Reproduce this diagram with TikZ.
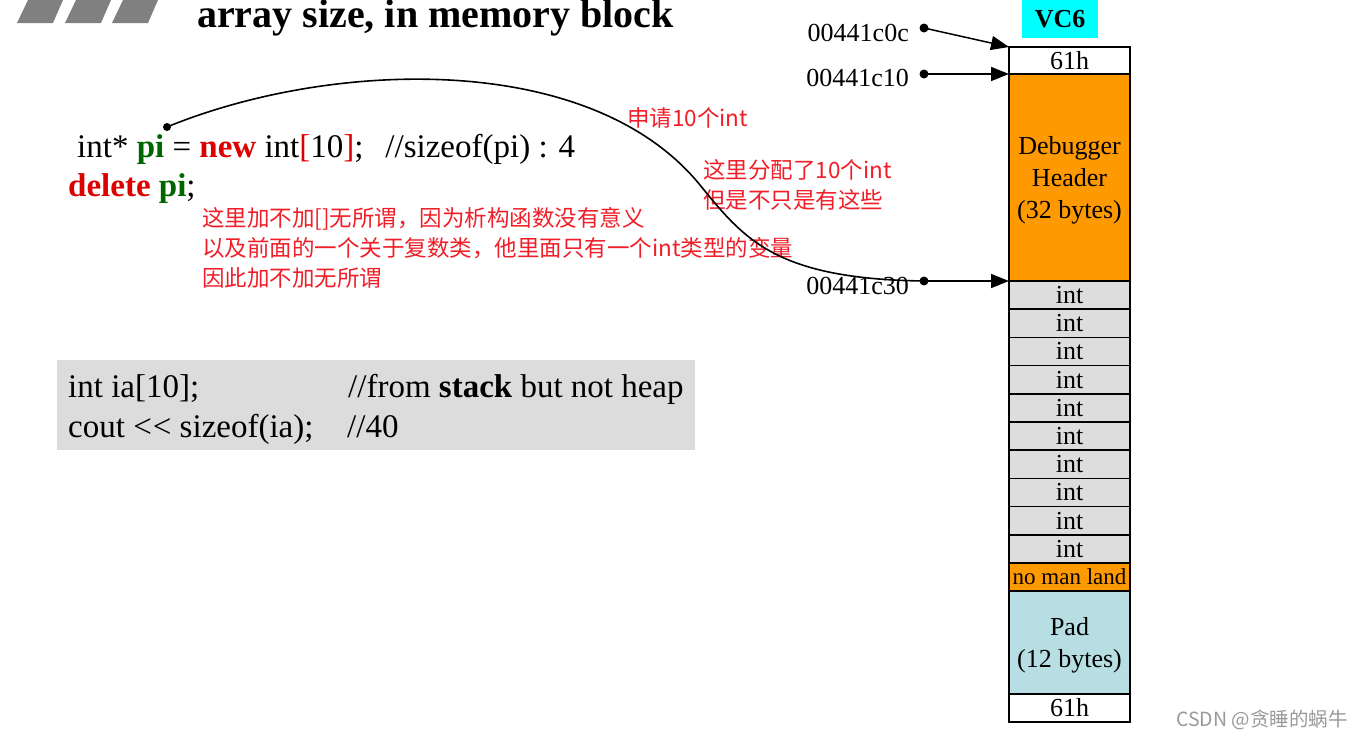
\documentclass[tikz,border=0pt]{standalone}
\usepackage{xcolor}
\usepackage{fontspec}
\setmainfont{Liberation Serif}
\newfontfamily\cjk{Noto Sans CJK SC}
\usepackage{tikz}
\usetikzlibrary{positioning,calc,arrows.meta}

\definecolor{hdrorange}{HTML}{FF9900}
\definecolor{cellgray}{HTML}{DDDDDD}
\definecolor{padblue}{HTML}{B7DEE3}
\definecolor{boxgray}{HTML}{DCDCDC}
\definecolor{vccyan}{HTML}{00FFFF}
\definecolor{keyred}{HTML}{DD0000}
\definecolor{ptrgreen}{HTML}{006600}
\definecolor{notered}{HTML}{F01E28}
\definecolor{markgray}{HTML}{808080}

\tikzset{
  memcell/.style={draw, line width=1.5pt, minimum width=121pt, inner sep=0pt, outer sep=0pt,
    anchor=north west, align=center, font=\fontsize{26}{32}\selectfont},
  addr/.style={anchor=base east, inner sep=0pt, font=\fontsize{26}{30}\selectfont},
  note/.style={text=notered, anchor=base west, inner sep=0pt, align=left, font=\cjk\fontsize{22.5}{30}\selectfont},
  code/.style={anchor=base west, inner sep=0pt, font=\fontsize{33}{40}\selectfont},
  ptr/.style={line width=1.5pt, -{Triangle[length=18pt,width=14pt]}}
}

\begin{document}
\begin{tikzpicture}[x=1pt,y=-1pt]
    \useasboundingbox (0,0) rectangle (1363,739);
    % Title
    \foreach \dx in {0,48,95}
        \fill[markgray] (17+\dx,23) -- (53+\dx,23) -- (63+\dx,0) -- (28+\dx,0) -- cycle;
    \node[anchor=base west, inner sep=0pt, font=\bfseries\fontsize{40}{48}\selectfont] (title) at (197,27) {array size, in memory block};
    % Code
    \node[code] (newline) at (77,157) {int* \textcolor{ptrgreen}{\textbf{pi}} = \textcolor{keyred}{\textbf{new}} int\textcolor{keyred}{[}10\textcolor{keyred}{]};\hspace{22pt}//sizeof(pi) : 4};
    \node[code] (delline) at (68,196) {\textcolor{keyred}{\textbf{delete}} \textcolor{ptrgreen}{\textbf{pi}};};
    \node[note] (delnote) at (202,286) {这里加不加[]无所谓，因为析构函数没有意义\\以及前面的一个关于复数类，他里面只有一个int类型的变量\\因此加不加无所谓};
    \node[note] (newnote) at (627,126) {申请10个int};
    \node[note] (allocnote) at (703,208) {这里分配了10个int\\但是不只是有这些};
    % Stack array
    \node[fill=boxgray, minimum width=638pt, minimum height=90pt, anchor=north west, inner sep=0pt] (stackbox) at (57,360) {};
    \node[code] (arrline) at (68,397) {int ia[10];};
    \node[code] (coutline) at (68,437) {cout <\kern1pt< sizeof(ia);};
    \node[code] (arrnote) at (348,397) {//from \textbf{stack} but not heap};
    \node[code] (coutnote) at (347,437) {//40};
    % Memory block
    \node[fill=vccyan, minimum width=76pt, minimum height=38pt, anchor=north west, inner sep=0pt, font=\bfseries\fontsize{26}{30}\selectfont] (vc) at (1022,0) {VC6};
    \node[memcell, fill=white, minimum height=27pt] (tophead) at (1009,47) {61h};
    \node[memcell, fill=hdrorange, minimum height=207pt, text depth=-2pt] (dbg) at (1009,74) {Debugger\\Header\\(32 bytes)};
    \foreach \i in {1,...,10}
        \node[memcell, fill=cellgray, minimum height=28.2pt] (int\i) at (1009,{281+28.2*(\i-1)}) {int};
    \node[memcell, fill=hdrorange, minimum height=28pt, font=\fontsize{23}{26}\selectfont] (noman) at (1009,563) {no man land};
    \node[memcell, fill=padblue, minimum height=103pt, text depth=-2pt] (pad) at (1009,591) {Pad\\(12 bytes)};
    \node[memcell, fill=white, minimum height=28pt] (tailcell) at (1009,694) {61h};
    % Addresses
    \coordinate (dot0c) at (924,28);
    \coordinate (dot10) at (924,74);
    \coordinate (dot30) at (924,281);
    \node[addr] (a0c) at (909,41) {00441c0c};
    \node[addr] (a10) at (909,86) {00441c10};
    \node[addr] (a30) at (909,294) {00441c30};
    \foreach \d in {dot0c,dot10,dot30}
        \fill (\d) circle (4.5pt);
    \draw[ptr] (dot0c) -- (tophead.north west);
    \draw[ptr] (dot10) -- (dbg.north west);
    \draw[ptr] (dot30) -- (int1.north west);
    % Pointer pi
    \coordinate (pidot) at (167,127);
    \fill (pidot) circle (4pt);
    \draw[line width=1.6pt] (pidot) .. controls (330,60) and (590,50) .. (700,185)
        .. controls (744,239) and (775,279) .. (dot30);
    \node[anchor=base east, inner sep=0pt, text=black!40, font=\cjk\fontsize{19.5}{22}\selectfont] (mark) at (1348,726) {CSDN @贪睡的蜗牛};
\end{tikzpicture}
\end{document}
